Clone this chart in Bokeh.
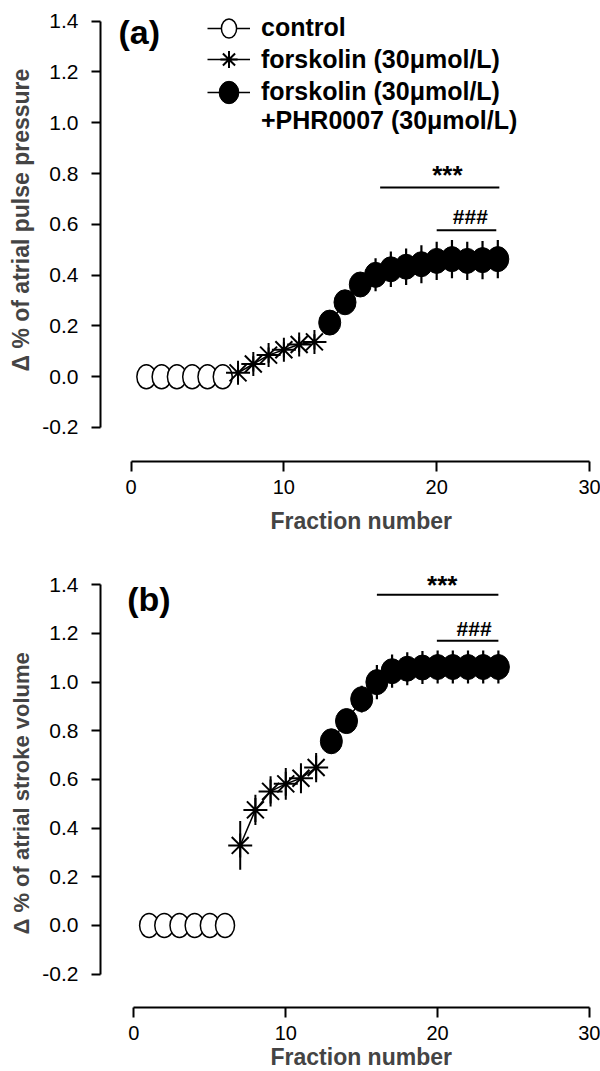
import numpy as np
from bokeh.plotting import figure
from bokeh.layouts import column
from bokeh.models import Range1d, FixedTicker, NumeralTickFormatter, Title, Legend, LegendItem, Label
from bokeh.core.properties import value
from bokeh.embed import file_html
from bokeh.resources import INLINE

FONT = "Liberation Sans"

# ---------------- data ----------------
fraction_control = [1, 2, 3, 4, 5, 6]
fraction_forskolin = [7, 8, 9, 10, 11, 12]
fraction_phr = [13, 14, 15, 16, 17, 18, 19, 20, 21, 22, 23, 24]

pulse_control = [0.0, 0.0, 0.0, 0.0, 0.0, 0.0]
pulse_forskolin = [0.015, 0.050, 0.085, 0.106, 0.127, 0.137]
pulse_forskolin_err = [0.030, 0.030, 0.030, 0.030, 0.030, 0.030]
pulse_phr = [0.213, 0.293, 0.363, 0.401, 0.423, 0.433, 0.443, 0.456, 0.463, 0.456, 0.459, 0.463]
pulse_phr_err = [0.020, 0.030, 0.045, 0.065, 0.070, 0.072, 0.075, 0.075, 0.075, 0.075, 0.075, 0.075]

stroke_control = [0.0, 0.0, 0.0, 0.0, 0.0, 0.0]
stroke_forskolin = [0.329, 0.475, 0.551, 0.582, 0.605, 0.649]
stroke_forskolin_err = [0.100, 0.062, 0.062, 0.065, 0.062, 0.060]
stroke_phr = [0.757, 0.840, 0.930, 1.000, 1.045, 1.055, 1.060, 1.062, 1.062, 1.062, 1.062, 1.062]
stroke_phr_err = [0.050, 0.050, 0.055, 0.070, 0.068, 0.068, 0.068, 0.068, 0.068, 0.068, 0.068, 0.068]

x_ticks = [0, 10, 20, 30]
y_ticks = [-0.2, 0.0, 0.2, 0.4, 0.6, 0.8, 1.0, 1.2, 1.4]

legend_labels = ["control", "forskolin (30\u03bcmol/L)", "forskolin (30\u03bcmol/L)",
                 "+PHR0007 (30\u03bcmol/L)"]
y_titles = ["\u0394 % of atrial pulse pressure", "\u0394 % of atrial stroke volume"]
x_title = "Fraction number"
panel_tags = ["(a)", "(b)"]

sig_text = ["***", "###"]
pulse_sig_start = [16.3, 20.0]
pulse_sig_end = [24.1, 23.9]
pulse_sig_level = [0.745, 0.577]
pulse_sig_text_x = [20.7, 22.2]
pulse_sig_text_level = [0.795, 0.631]
stroke_sig_start = [16.0, 19.95]
stroke_sig_end = [24.0, 24.0]
stroke_sig_level = [1.359, 1.170]
stroke_sig_text_x = [20.3, 22.4]
stroke_sig_text_level = [1.399, 1.222]


def make_panel(cfg, ctrl, fsk, fsk_err, phr, phr_err, sig, tag, ytitle, with_legend):
    p = figure(frame_width=cfg["fw"], frame_height=cfg["fh"],
               x_range=Range1d(cfg["x0"], cfg["x1"]), y_range=Range1d(cfg["y0"], cfg["y1"]),
               output_backend="svg", toolbar_location=None,
               min_border_left=cfg["bl"], min_border_right=cfg["br"],
               min_border_top=cfg["bt"], min_border_bottom=cfg["bb"])
    p.outline_line_color = None
    p.background_fill_color = "white"
    p.border_fill_color = "white"
    p.xgrid.visible = False
    p.ygrid.visible = False

    for ax, ticks, bounds, tout, stand, fs in ((p.xaxis[0], x_ticks, (0, 30), 10, 8, "20px"),
                                               (p.yaxis[0], y_ticks, (-0.2, 1.4), 9, 13, "21px")):
        ax.ticker = FixedTicker(ticks=ticks)
        ax.bounds = bounds
        ax.axis_line_width = 2
        ax.axis_line_color = "black"
        ax.major_tick_line_width = 2
        ax.major_tick_line_color = "black"
        ax.major_tick_in = 0
        ax.major_tick_out = tout
        ax.minor_tick_line_color = None
        ax.major_label_standoff = stand
        ax.major_label_text_font = FONT
        ax.major_label_text_font_size = fs
        ax.major_label_text_color = "black"
    p.yaxis[0].formatter = NumeralTickFormatter(format="0.0")

    p.add_layout(Title(text=ytitle, align="left", offset=cfg["yto"], standoff=11,
                       text_font=FONT, text_font_size=cfg["ytfs"], text_font_style="bold"), "left")
    p.add_layout(Title(text=x_title, align="left", offset=cfg["xto"], standoff=cfg["xts"],
                       vertical_align="top",
                       text_font=FONT, text_font_size="23px", text_font_style="bold"), "below")

    # connecting lines
    r_ctrl_line = p.line(fraction_control, ctrl, line_color="black", line_width=1.5)
    r_fsk_line = p.line(fraction_forskolin, fsk, line_color="black", line_width=1.5)
    r_phr_line = p.line(fraction_phr, phr, line_color="black", line_width=1.5)

    # error bars
    fx = np.array(fraction_forskolin, dtype=float)
    fy = np.array(fsk); fe = np.array(fsk_err)
    p.segment(x0=fx, y0=fy - fe, x1=fx, y1=fy + fe, line_color="black", line_width=2)
    px_ = np.array(fraction_phr, dtype=float)
    py = np.array(phr); pe = np.array(phr_err)
    p.segment(x0=px_, y0=py - pe, x1=px_, y1=py + pe, line_color="black", line_width=2.2)

    # markers
    r_ctrl = p.ellipse(x=fraction_control, y=ctrl, width=19, height=24,
                       width_units="screen", height_units="screen",
                       fill_color="white", line_color="black", line_width=1.5)
    r_fsk = p.scatter(x=fraction_forskolin, y=fsk, marker="asterisk", size=24,
                      line_color="black", line_width=2)
    r_phr = p.ellipse(x=fraction_phr, y=phr, width=22, height=25,
                      width_units="screen", height_units="screen",
                      fill_color="black", line_color="black", line_width=1)

    # significance bars
    s_start, s_end, s_level, s_tx, s_ty = sig
    p.segment(x0=s_start, y0=s_level, x1=s_end, y1=s_level, line_color="black", line_width=2)
    for i, size in ((0, "26px"), (1, "21px")):
        p.text(x=[s_tx[i]], y=[s_ty[i]], text=[sig_text[i]], text_font=value(FONT),
               text_font_size=value(size), text_font_style="bold", text_color="black",
               text_align="center", text_baseline="alphabetic")

    p.add_layout(Label(x=cfg["tagx"], y=cfg["tagy"], text=tag, text_font=FONT,
                       text_font_size="34px", text_font_style="bold", text_color="black",
                       text_align="center", text_baseline="middle"))

    if with_legend:
        r_dummy = p.line(fraction_phr, phr, line_alpha=0)
        common = dict(glyph_width=43, label_standoff=11, spacing=0, padding=0, margin=0,
                      border_line_color=None, background_fill_alpha=0,
                      label_text_font=FONT, label_text_font_size="25px",
                      label_text_font_style="bold", label_text_color="black")
        lg1 = Legend(items=[LegendItem(label=legend_labels[0], renderers=[r_ctrl_line, r_ctrl])],
                     location=(107, 419), glyph_height=24, label_height=24, **common)
        lg2 = Legend(items=[LegendItem(label=legend_labels[1], renderers=[r_fsk_line, r_fsk])],
                     location=(107, 380), glyph_height=44, label_height=24, **common)
        lg3 = Legend(items=[LegendItem(label=legend_labels[2], renderers=[r_phr_line, r_phr]),
                            LegendItem(label=legend_labels[3], renderers=[r_dummy])],
                     location=(107, 326), glyph_height=28, label_height=28, **common)
        for lg in (lg1, lg2, lg3):
            p.add_layout(lg)
    return p


cfg_a = dict(fw=489, fh=451, x0=-2.0, x1=30.0, y0=-0.334, y1=1.442,
             bl=99, br=12, bt=10, bb=84, yto=90, ytfs="23px", xto=170, xts=22,
             tagx=0.54, tagy=1.359)
cfg_b = dict(fw=489, fh=440, x0=-2.2, x1=30.0, y0=-0.337, y1=1.471,
             bl=99, br=12, bt=21, bb=65, yto=73, ytfs="22px", xto=170, xts=3,
             tagx=0.99, tagy=1.342)

pa = make_panel(cfg_a, pulse_control, pulse_forskolin, pulse_forskolin_err, pulse_phr, pulse_phr_err,
                (pulse_sig_start, pulse_sig_end, pulse_sig_level, pulse_sig_text_x, pulse_sig_text_level),
                panel_tags[0], y_titles[0], True)
pb = make_panel(cfg_b, stroke_control, stroke_forskolin, stroke_forskolin_err, stroke_phr, stroke_phr_err,
                (stroke_sig_start, stroke_sig_end, stroke_sig_level, stroke_sig_text_x, stroke_sig_text_level),
                panel_tags[1], y_titles[1], False)

layout = column(pa, pb, spacing=0)
open("out.html", "w").write(file_html(layout, INLINE))
